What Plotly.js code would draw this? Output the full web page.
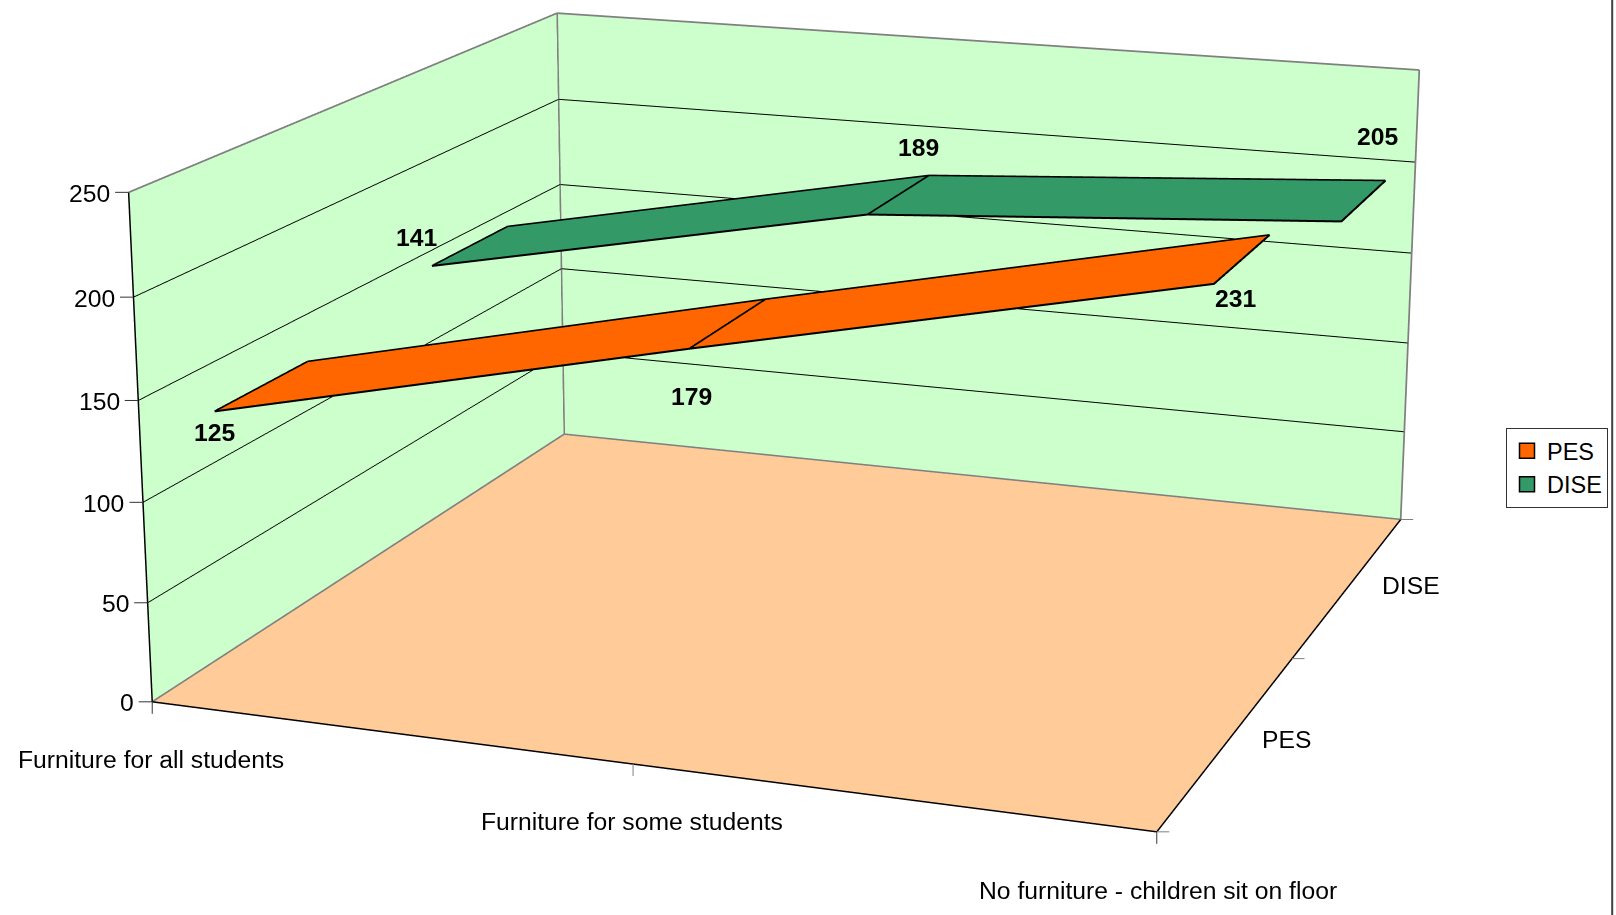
<!DOCTYPE html>
<html><head><meta charset="utf-8"><title>Classroom furniture: PES and DISE</title>
<script src="https://cdn.plot.ly/plotly-3.0.1.min.js"></script>
<style>html,body{margin:0;background:#fff;overflow:hidden}</style></head>
<body><div id="chart" style="width:1616px;height:915px"></div>
<script>
// Chart data
const categories = ['Furniture for all students', 'Furniture for some students', 'No furniture - children sit on floor'];
const seriesNames = ['PES', 'DISE'];
const pesValues = [125, 179, 231];
const diseValues = [141, 189, 205];
const valueTicks = [0, 50, 100, 150, 200, 250];

// Styling
const seriesColors = ['#FF6600', '#339966'];
const wallColor = '#CCFFCC';
const floorColor = '#FFCC99';
const edgeGrey = '#808080';

// Each ribbon occupies a band of the depth axis, front edge then back edge
const ribbonDepth = [[0.2965, 0.6994], [1.3000, 1.7010]];
// Keeps ribbon outlines just above their own faces so the depth test does not eat them
const outlineLift = 0.3;
// Pixel offsets of the value labels relative to each ribbon's front edge
const labelShift = [[[0, -21], [2, -47], [22, -13.6]], [[-15.4, 29], [51, 68], [36, 86]]];
const categoryShift = [[-1, -58], [-1, -57], [1.5, -59]];
const seriesLabelShift = [[58, 1], [62, 0]];

const font = {family: '"Liberation Sans", Arial, sans-serif', size: 24.7, color: '#000'};
const legendFont = {family: font.family, size: 23.5, color: '#000'};

function ribbonFace(s, values) {
  const x = [], y = [], z = [], i = [], j = [], k = [];
  values.forEach((v, c) => {
    x.push(c, c);
    y.push(ribbonDepth[s][0], ribbonDepth[s][1]);
    z.push(v, v);
    if (c) {
      const a = 2 * c - 2;
      i.push(a, a + 1);
      j.push(a + 1, a + 3);
      k.push(a + 2, a + 2);
    }
  });
  return {type: 'mesh3d', x, y, z, i, j, k, color: seriesColors[s], flatshading: true,
    lighting: {ambient: 1, diffuse: 0, specular: 0, fresnel: 0, roughness: 1},
    hoverinfo: 'skip', showlegend: false, showscale: false};
}

function ribbonOutline(s, values) {
  const x = [], y = [], z = [];
  const add = (c, edge) => {
    x.push(c);
    y.push(ribbonDepth[s][edge]);
    z.push(values[c] + outlineLift);
  };
  const last = values.length - 1;
  values.forEach((v, c) => add(c, 0));
  for (let c = last; c >= 0; c--) add(c, 1);
  add(0, 0);
  x.push(null); y.push(null); z.push(null);
  // Fold line where the ribbon changes slope
  add(1, 0);
  add(1, 1);
  return {type: 'scatter3d', mode: 'lines', x, y, z, line: {color: '#000', width: 4},
    hoverinfo: 'skip', showlegend: false};
}

function frameLines(color, width, segments) {
  const x = [], y = [], z = [];
  segments.forEach(s => {
    x.push(s[0], s[3], null);
    y.push(s[1], s[4], null);
    z.push(s[2], s[5], null);
  });
  return {type: 'scatter3d', mode: 'lines', x, y, z, line: {color, width},
    hoverinfo: 'skip', showlegend: false};
}

const legendEntry = s => ({type: 'scatter3d', mode: 'markers', x: [null], y: [null], z: [null],
  name: seriesNames[s], showlegend: true, hoverinfo: 'skip',
  marker: {symbol: 'square', size: 15, color: seriesColors[s], line: {color: '#000', width: 1.5}}});

const topValue = valueTicks[valueTicks.length - 1];
const lastCat = categories.length - 1;
const lastSeries = seriesNames.length;

const traces = [
  ribbonFace(0, pesValues),
  ribbonFace(1, diseValues),
  ribbonOutline(0, pesValues),
  ribbonOutline(1, diseValues),
  frameLines(edgeGrey, 3.5, [
    [0, lastSeries, 0, 0, lastSeries, topValue],
    [lastCat, lastSeries, 0, lastCat, lastSeries, topValue],
    [0, 0, topValue, 0, lastSeries, topValue],
    [0, lastSeries, topValue, lastCat, lastSeries, topValue],
    [0, 0, 0, 0, lastSeries, 0],
    [0, lastSeries, 0, lastCat, lastSeries, 0]
  ]),
  frameLines('#000', 3, [
    [0, 0, 0, 0, 0, topValue],
    [0, 0, 0, lastCat, 0, 0],
    [lastCat, 0, 0, lastCat, lastSeries, 0]
  ]),
  legendEntry(0),
  legendEntry(1)
];

// Tick stubs are arrow-only annotations anchored to the scene's data coordinates
const tickStub = (x, y, z, ax, ay, color) => ({x, y, z, text: ' ', font: {size: 1}, borderpad: 0,
  showarrow: true, arrowhead: 0, arrowwidth: 1, arrowcolor: color, ax, ay, standoff: 0});

const annotations = [];
valueTicks.forEach(v => {
  annotations.push({x: 0, y: 0, z: v, text: String(v), showarrow: false, xanchor: 'right',
    yanchor: 'middle', xshift: -16.5, yshift: -1, font});
  annotations.push(tickStub(0, 0, v, -14, 0, '#333'));
});
categories.forEach((name, c) => {
  annotations.push({x: c, y: 0, z: 0, text: name, showarrow: false, yanchor: 'middle',
    xshift: categoryShift[c][0], yshift: categoryShift[c][1], font});
  annotations.push(tickStub(c, 0, 0, 0, 13, c === 1 ? edgeGrey : '#333'));
});
seriesNames.forEach((name, s) => {
  annotations.push({x: lastCat, y: s + 0.5, z: 0, text: name, showarrow: false, yanchor: 'middle',
    xshift: seriesLabelShift[s][0], yshift: seriesLabelShift[s][1], font});
});
for (let s = 0; s <= lastSeries; s++) annotations.push(tickStub(lastCat, s, 0, 13, 0, edgeGrey));
[pesValues, diseValues].forEach((values, s) => values.forEach((v, c) => {
  annotations.push({x: c, y: ribbonDepth[s][0], z: v, text: '<b>' + v + '</b>', showarrow: false,
    xshift: labelShift[s][c][0], yshift: labelShift[s][c][1], yanchor: 'middle', font});
}));

const axis = extra => Object.assign({showbackground: true, backgroundcolor: wallColor, showgrid: false,
  zeroline: false, showticklabels: false, ticks: '', showspikes: false, showline: false,
  title: {text: ''}}, extra);

const layout = {
  width: 1616, height: 915, margin: {l: 0, r: 0, t: 0, b: 0, pad: 0},
  paper_bgcolor: '#fff', font, hovermode: false,
  legend: {x: 1506 / 1616, y: 1 - 428 / 915, xanchor: 'left', yanchor: 'top', bgcolor: '#fff',
    bordercolor: '#333', borderwidth: 1, font: legendFont, itemwidth: 30},
  shapes: [{type: 'line', xref: 'paper', yref: 'paper', x0: 1612.2 / 1616, x1: 1612.2 / 1616,
    y0: 0, y1: 1, line: {color: '#404040', width: 2}}],
  scene: {
    domain: {x: [0, 1], y: [0, 1]},
    aspectmode: 'manual',
    aspectratio: {x: 1.9945, y: 1.9993, z: 1},
    camera: {eye: {x: 2.7831, y: -7.6838, z: 2.1882}, center: {x: -0.0221, y: 0, z: -0.1872},
      up: {x: 0, y: 0, z: 1}, projection: {type: 'perspective'}},
    xaxis: axis({range: [0, lastCat], tickvals: [0, 1, 2]}),
    yaxis: axis({range: [0, lastSeries], tickvals: [0, 1, 2]}),
    zaxis: axis({range: [0, topValue], backgroundcolor: floorColor, showgrid: true, gridcolor: '#000',
      gridwidth: 2, tickvals: valueTicks.slice(1, -1)}),
    annotations
  }
};

const chart = document.getElementById('chart');
Plotly.newPlot(chart, traces, layout, {displayModeBar: false}).then(() => {
  // A long lens: the scene's default field of view would exaggerate the perspective
  const view = chart._fullLayout.scene._scene.glplot;
  view.fovy = 0.21802298;
  view.redraw();
});
</script></body></html>
